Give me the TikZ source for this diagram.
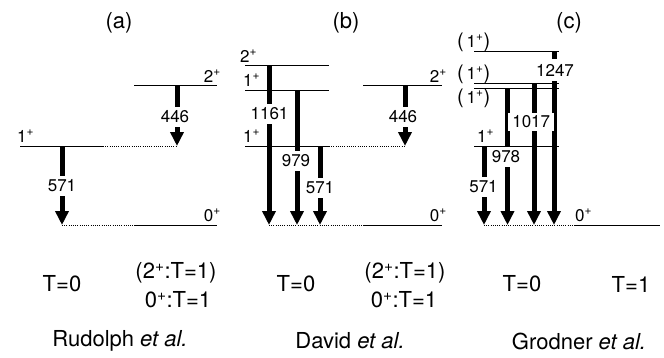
\documentclass[tikz,border=0pt]{standalone}
\usepackage{fontspec}
\setmainfont{TeX Gyre Heros}
\usetikzlibrary{arrows.meta}
\begin{document}
\begin{tikzpicture}[x=1pt,y=-1pt,
  lev/.style={line width=0.8pt},
  dlev/.style={line width=0.8pt, dash pattern=on 1pt off 1.2pt},
  gam/.style={line width=5pt, -{Triangle[length=14pt,width=13pt]}},
  elab/.style={fill=white, inner xsep=2pt, inner ysep=4pt, font=\fontsize{17}{19}\selectfont},
  llab/.style={inner sep=0pt, font=\fontsize{17}{19}\selectfont},
  big/.style={inner sep=0pt, font=\fontsize{22}{24}\selectfont},
]
\useasboundingbox (0,0) rectangle (664,357);

% ---------------- (a)
\node[big] (ta) at (119,23) {(a)};
\coordinate (a2L) at (134,85); \coordinate (a2R) at (217,85);
\coordinate (a1L) at (20,146); \coordinate (a1R) at (103,146); \coordinate (a1D) at (177,146);
\coordinate (a0D) at (62,225); \coordinate (a0L) at (134,225); \coordinate (a0R) at (217,225);
\coordinate (a446t) at (177,85); \coordinate (a571t) at (62,146);
\draw[lev] (a2L) -- (a2R);
\draw[lev] (a1L) -- (a1R);
\draw[dlev] (a1R) -- (a1D);
\draw[dlev] (a0D) -- (a0L);
\draw[lev] (a0L) -- (a0R);
\draw[gam] (a446t) -- (a1D);
\draw[gam] (a571t) -- (a0D);
\node[elab] (la446) at (175,117) {446};
\node[elab] (la571) at (62,186) {571};
\node[llab, anchor=base west] (la1) at (17,142) {1\textsuperscript{+}};
\node[llab, anchor=base east] (la2) at (221,82) {2\textsuperscript{+}};
\node[llab, anchor=base east] (la0) at (221,221) {0\textsuperscript{+}};

% ---------------- (b)
\node[big] (tb) at (346,23) {(b)};
\coordinate (b2L) at (245,65); \coordinate (b2R) at (329,65);
\coordinate (b1uL) at (245,90); \coordinate (b1uR) at (329,90);
\coordinate (b1L) at (245,146); \coordinate (b1R) at (329,146); \coordinate (b1D) at (405,146);
\coordinate (bq2L) at (363,85); \coordinate (bq2R) at (442,85);
\coordinate (b0a) at (269,225); \coordinate (b0b) at (297,225); \coordinate (b0c) at (320,225);
\coordinate (b0L) at (363,225); \coordinate (b0R) at (442,225);
\coordinate (b1161t) at (269,65); \coordinate (b979t) at (297,90); \coordinate (b571t) at (320,146);
\coordinate (b446t) at (405,85);
\draw[lev] (b2L) -- (b2R);
\draw[lev] (b1uL) -- (b1uR);
\draw[lev] (b1L) -- (b1R);
\draw[dlev] (b1R) -- (b1D);
\draw[lev] (bq2L) -- (bq2R);
\draw[dlev] (b0a) -- (b0L);
\draw[lev] (b0L) -- (b0R);
\draw[gam] (b1161t) -- (b0a);
\draw[gam] (b979t) -- (b0b);
\draw[gam] (b571t) -- (b0c);
\draw[gam] (b446t) -- (b1D);
\node[elab] (lb1161) at (269.5,114) {1161};
\node[elab] (lb979) at (296,161) {979};
\node[elab] (lb571) at (320,188) {571};
\node[elab] (lb446) at (403,117) {446};
\node[llab, anchor=base west] (lb2) at (240,62) {2\textsuperscript{+}};
\node[llab, anchor=base west] (lb1u) at (243,86) {1\textsuperscript{+}};
\node[llab, anchor=base west] (lb1) at (243,142) {1\textsuperscript{+}};
\node[llab, anchor=base east] (lbq2) at (447,82) {2\textsuperscript{+}};
\node[llab, anchor=base east] (lb0) at (447,221) {0\textsuperscript{+}};

% ---------------- (c)
\node[big] (tc) at (569,23) {(c)};
\coordinate (c4L) at (474,51); \coordinate (c4R) at (559,51);
\coordinate (c3L) at (474,83); \coordinate (c3R) at (559,83);
\coordinate (c2L) at (474,88.7); \coordinate (c2R) at (559,88.7);
\coordinate (c1L) at (474,146); \coordinate (c1R) at (559,146);
\coordinate (c0a) at (484,225); \coordinate (c0b) at (507.5,225);
\coordinate (c0c) at (534,225); \coordinate (c0d) at (554,225);
\coordinate (c0L) at (575,225); \coordinate (c0R) at (660,225);
\coordinate (c571t) at (484,146); \coordinate (c978t) at (507.5,88.7);
\coordinate (c1017t) at (534,83); \coordinate (c1247t) at (554,51);
\draw[lev] (c4L) -- (c4R);
\draw[lev] (c3L) -- (c3R);
\draw[lev] (c2L) -- (c2R);
\draw[lev] (c1L) -- (c1R);
\draw[dlev] (c0a) -- (c0L);
\draw[lev] (c0L) -- (c0R);
\draw[gam] (c571t) -- (c0a);
\draw[gam] (c978t) -- (c0b);
\draw[gam] (c1017t) -- (c0c);
\draw[gam] (c1247t) -- (c0d);
\node[elab] (lc571) at (483.5,187) {571};
\node[elab] (lc978) at (506,157) {978};
\node[elab, inner sep=0pt, minimum width=46pt, minimum height=18pt] (lc1017) at (531.2,121.5) {1017};
\node[elab, inner ysep=5pt] (lc1247) at (555,70) {1247};
\node[llab, anchor=base west] (lc4) at (457,47) {{\fontsize{20}{20}\selectfont(}\,1\textsuperscript{+}{\fontsize{20}{20}\selectfont)}};
\node[llab, anchor=base west] (lc3) at (457,79) {{\fontsize{20}{20}\selectfont(}\,1\textsuperscript{+}{\fontsize{20}{20}\selectfont)}};
\node[llab, anchor=base west] (lc2) at (457,103) {{\fontsize{20}{20}\selectfont(}\,1\textsuperscript{+}{\fontsize{20}{20}\selectfont)}};
\node[llab, anchor=base west] (lc1) at (477,142) {1\textsuperscript{+}};
\node[llab, anchor=base west] (lc0) at (575,221) {0\textsuperscript{+}};

% ---------------- bottom
\node[big] (ba0) at (62,284) {T=0};
\node[big] (ba2) at (176,273) {(2\textsuperscript{+}:T=1)};
\node[big] (ba1) at (178,300) {0\textsuperscript{+}:T=1};
\node[big] (bar) at (120,341) {Rudolph \textit{et al.}};
\node[big] (bb0) at (296,284) {T=0};
\node[big] (bb2) at (405,273) {(2\textsuperscript{+}:T=1)};
\node[big] (bb1) at (404,300) {0\textsuperscript{+}:T=1};
\node[big] (bbr) at (350,341) {David \textit{et al.}};
\node[big] (bc0) at (522,284) {T=0};
\node[big] (bc1) at (631,284) {T=1};
\node[big] (bcr) at (579,341) {Grodner \textit{et al.}};
\end{tikzpicture}
\end{document}
